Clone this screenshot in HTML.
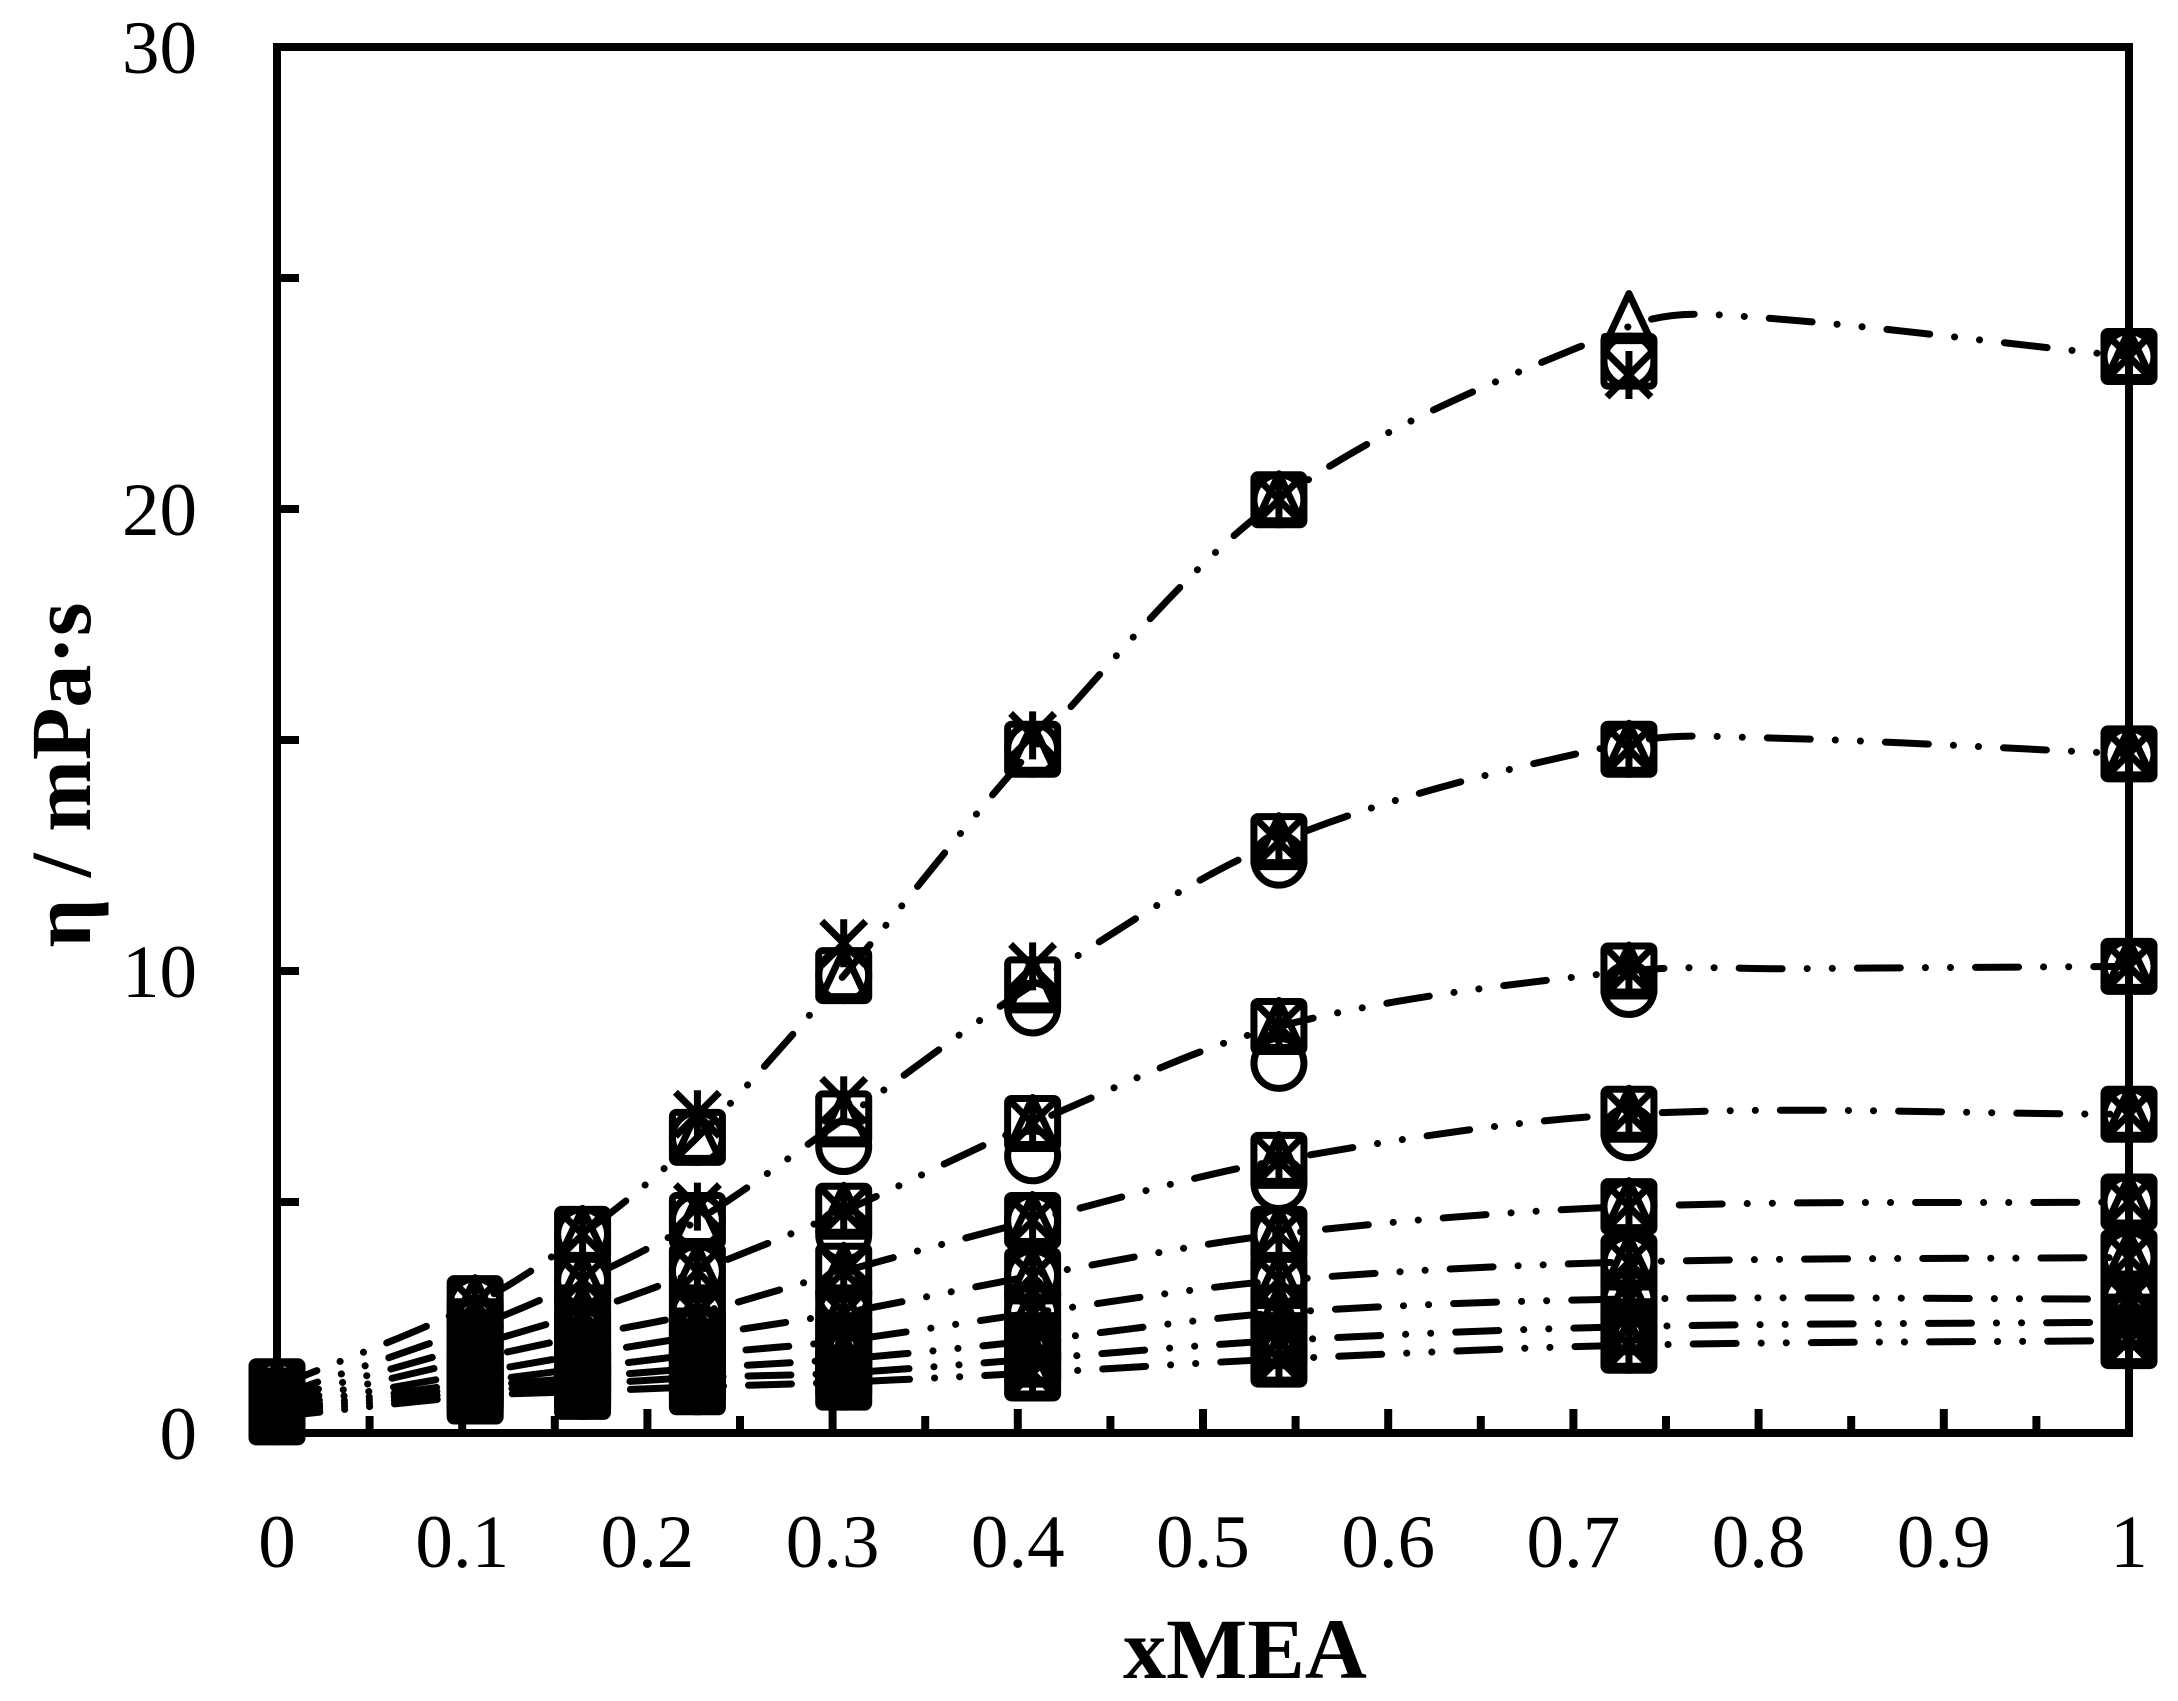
<!DOCTYPE html>
<html><head><meta charset="utf-8"><style>
html,body{margin:0;padding:0;background:#fff;}
svg{display:block;}
</style></head><body>
<svg id="s" width="2178" height="1701" viewBox="0 0 2178 1701" xmlns="http://www.w3.org/2000/svg">
<rect width="2178" height="1701" fill="#fff"/>
<g id="lines" fill="none" stroke="#000" stroke-width="7" stroke-linecap="round" stroke-dasharray="43 25 0.1 25 0.1 25"></g>
<g id="marks" fill="none" stroke="#000" stroke-width="7" stroke-linejoin="round"></g>
<g id="axes" stroke="#000" stroke-width="8" fill="none"></g>
<g id="txt" font-family="Liberation Serif, serif" fill="#000"></g>
<text x="1245" y="1678" font-family="Liberation Serif, serif" font-weight="bold" font-size="86" text-anchor="middle">xMEA</text>
<text transform="translate(90,775) rotate(-90)" font-family="Liberation Serif, serif" font-weight="bold" font-size="86" text-anchor="middle">η / mPa·s</text>
</svg>
<script>
const NS="http://www.w3.org/2000/svg";
const X=x=>277+x*1852, Y=v=>1433-v*46.2;
function el(p,t,a){const e=document.createElementNS(NS,t);for(const k in a)e.setAttribute(k,a[k]);document.getElementById(p).appendChild(e);return e;}
const xs=[0,0.107,0.165,0.227,0.306,0.408,0.541,0.73,1];
const C=[
[1.0,2.8,4.3,6.4,9.9,14.8,20.2,23.2,23.3],
[0.8,2.3,3.3,4.6,6.8,9.7,12.8,14.8,14.7],
[0.7,1.9,2.6,3.5,4.8,6.7,8.8,10.0,10.1],
[0.6,1.6,2.1,2.6,3.5,4.6,5.9,6.9,6.9],
[0.55,1.3,1.7,2.1,2.6,3.4,4.3,4.9,5.0],
[0.5,1.1,1.4,1.7,2.0,2.6,3.3,3.7,3.8],
[0.45,1.0,1.2,1.4,1.6,2.0,2.6,2.9,2.9],
[0.4,0.9,1.05,1.2,1.3,1.6,2.0,2.3,2.4],
[0.35,0.8,0.9,1.0,1.1,1.3,1.6,1.9,2.0]];
C.forEach((c,i)=>{
  let pts=xs.map((x,j)=>[X(x),Y(c[j])]);
  if(i==0){pts[7]=[X(0.73),Y(23.95)];pts.splice(8,0,[X(0.78),Y(24.2)]);}
  if(i==1){pts[7]=[X(0.73),Y(14.95)];pts.splice(8,0,[X(0.80),Y(15.05)]);}
  if(i==2){pts.splice(8,0,[X(0.82),Y(10.05)]);}
  const n=pts.length, m=[];
  for(let k=0;k<n;k++){
    const a=pts[Math.max(0,k-1)], b=pts[Math.min(n-1,k+1)];
    m.push((b[1]-a[1])/(b[0]-a[0]));
  }
  let d="M"+pts[0][0]+","+pts[0][1];
  for(let k=0;k<n-1;k++){
    const p1=pts[k],p2=pts[k+1],dx=(p2[0]-p1[0])/3;
    d+=` C${p1[0]+dx},${p1[1]+m[k]*dx} ${p2[0]-dx},${p2[1]-m[k+1]*dx} ${p2[0]},${p2[1]}`;
  }
  el("lines","path",{d});
});
const circ={ "1,5":9.2,"1,6":12.4,"2,5":6.0,"2,6":8.0,"2,7":9.6,"3,6":5.4,"3,7":6.5,"3,4":3.0,"2,4":4.3,"1,4":6.2};
const tri={"0,7":24.1};
const ast={"0,4":10.6,"0,5":15.1,"0,3":6.9,"0,7":22.9,"1,5":10.1,"1,4":7.2,"1,3":4.9};
C.forEach((c,i)=>{xs.forEach((x,j)=>{
  const cx=X(x), sv=c[j];
  const sy=Y(sv);
  el("marks","rect",{x:cx-25,y:sy-25,width:50,height:50,rx:4});
  const tv=tri[i+","+j]??sv, ty=Y(tv);
  el("marks","path",{d:`M${cx},${ty-26} L${cx-22},${ty+21} L${cx+22},${ty+21} Z`});
  const av=ast[i+","+j]??sv, ay=Y(av);
  el("marks","path",{d:`M${cx-22},${ay-22} L${cx+22},${ay+22} M${cx+22},${ay-22} L${cx-22},${ay+22} M${cx},${ay-24} L${cx},${ay+24}`});
  const ov=circ[i+","+j]??sv, oy=Y(ov);
  el("marks","circle",{cx,cy:oy,r:25});
});});
el("axes","rect",{x:277,y:47,width:1852,height:1386});
for(let v=5;v<30;v+=5){el("axes","line",{x1:277,y1:Y(v),x2:299,y2:Y(v)});}
for(let k=1;k<20;k++){const x=X(k*0.05);el("axes","line",{x1:x,y1:1433,x2:x,y2:(k%2==0?1409:1416)});}
for(let v=0;v<=30;v+=10){el("txt","text",{x:197,y:Y(v)+26,"font-size":75,"text-anchor":"end"}).textContent=String(v);}
for(let k=0;k<=10;k++){el("txt","text",{x:X(k/10),y:1567,"font-size":75,"text-anchor":"middle"}).textContent=k==0?"0":k==10?"1":"0."+k;}
</script>
</body></html>
